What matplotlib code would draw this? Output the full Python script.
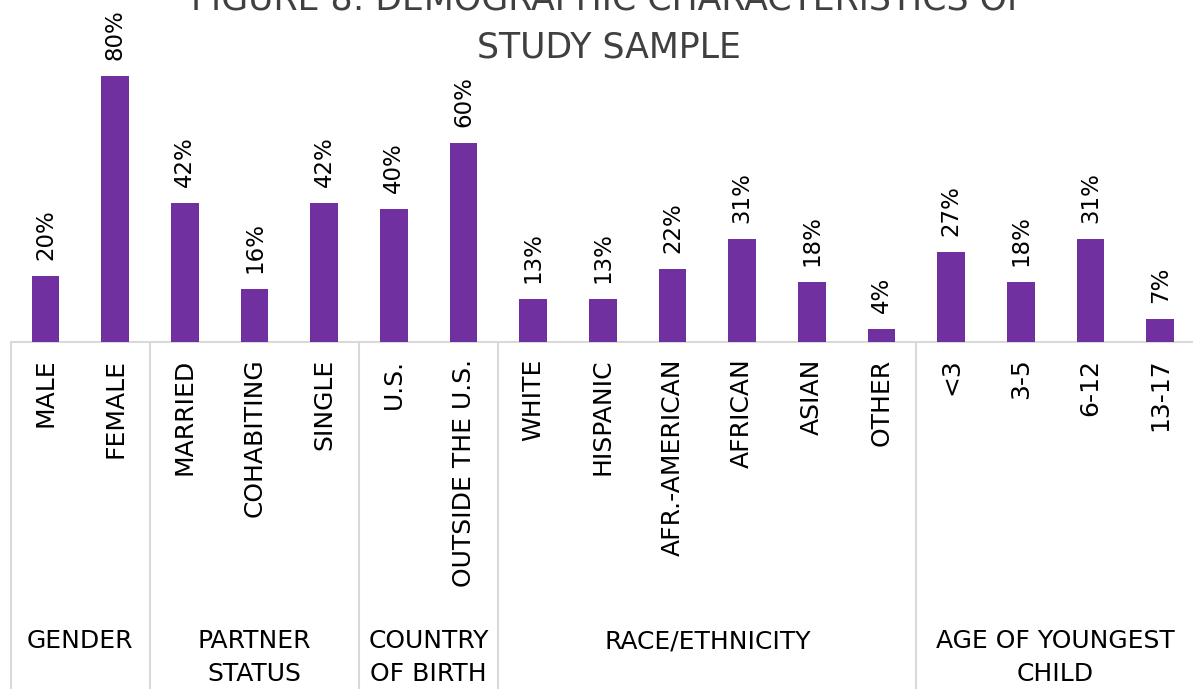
import matplotlib
matplotlib.use("Agg")
import matplotlib.pyplot as plt
from matplotlib.transforms import blended_transform_factory
import numpy as np

categories = ["MALE", "FEMALE", "MARRIED", "COHABITING", "SINGLE", "U.S.",
              "OUTSIDE THE U.S.", "WHITE", "HISPANIC", "AFR.-AMERICAN", "AFRICAN",
              "ASIAN", "OTHER", "<3", "3-5", "6-12", "13-17"]
values = [20, 80, 42, 16, 42, 40, 60, 13, 13, 22, 31, 18, 4, 27, 18, 31, 7]
value_labels = ["20%", "80%", "42%", "16%", "42%", "40%", "60%", "13%", "13%",
                "22%", "31%", "18%", "4%", "27%", "18%", "31%", "7%"]
groups = ["GENDER", "PARTNER\nSTATUS", "COUNTRY\nOF BIRTH", "RACE/ETHNICITY",
          "AGE OF YOUNGEST\nCHILD"]
group_sizes = [2, 3, 2, 6, 4]
title = "FIGURE 8: DEMOGRAPHIC CHARACTERISTICS OF\nSTUDY SAMPLE"

plt.rcParams['font.family'] = ['DejaVu Sans']
W, H = 1193, 689
fig = plt.figure(figsize=(W / 100, H / 100), dpi=100)
left = 10.7 / W
right = 1195 / W
bottom = (H - 342) / H
ax = fig.add_axes([left, bottom, right - left, 1 - bottom])

bar_color = "#7030A0"
grid_color = "#D9D9D9"
x = np.arange(len(categories))
bars = ax.bar(x, values, width=0.4, color=bar_color, zorder=3)
ax.set_xlim(-0.5, len(categories) - 0.5)
ax.set_ylim(0, 103)

for xi, v, lab in zip(x, values, value_labels):
    ax.annotate(lab, (xi, v), xytext=(0, 11.5), textcoords="offset points",
                rotation=90, ha="center", va="bottom", fontsize=16.5, color="black")

for s in ["top", "left", "right"]:
    ax.spines[s].set_visible(False)
ax.spines["bottom"].set_color(grid_color)
ax.spines["bottom"].set_linewidth(1.5)
ax.set_yticks([])
ax.set_xticks(x)
ax.set_xticklabels(categories, rotation=90, fontsize=18, color="black", va="top")
ax.tick_params(axis="x", length=0, pad=12)

trans = blended_transform_factory(ax.transData, fig.transFigure)
bounds = np.concatenate([[0], np.cumsum(group_sizes)]) - 0.5
for b in bounds:
    ax.plot([b, b], [bottom, 0], transform=trans, color=grid_color, lw=1.5,
            clip_on=False, zorder=1)

for i, g in enumerate(groups):
    cx = (bounds[i] + bounds[i + 1]) / 2
    ax.text(cx, (H - 629.5) / H, g, transform=trans, ha="center", va="top",
            fontsize=18, color="black", linespacing=1.44, multialignment="center")

fig.text(609 / W, 1 + 17 / H, title, ha="center", va="top", fontsize=25,
         color="#404040", linespacing=1.5, multialignment="center")

fig.savefig("out.png", dpi=100)
